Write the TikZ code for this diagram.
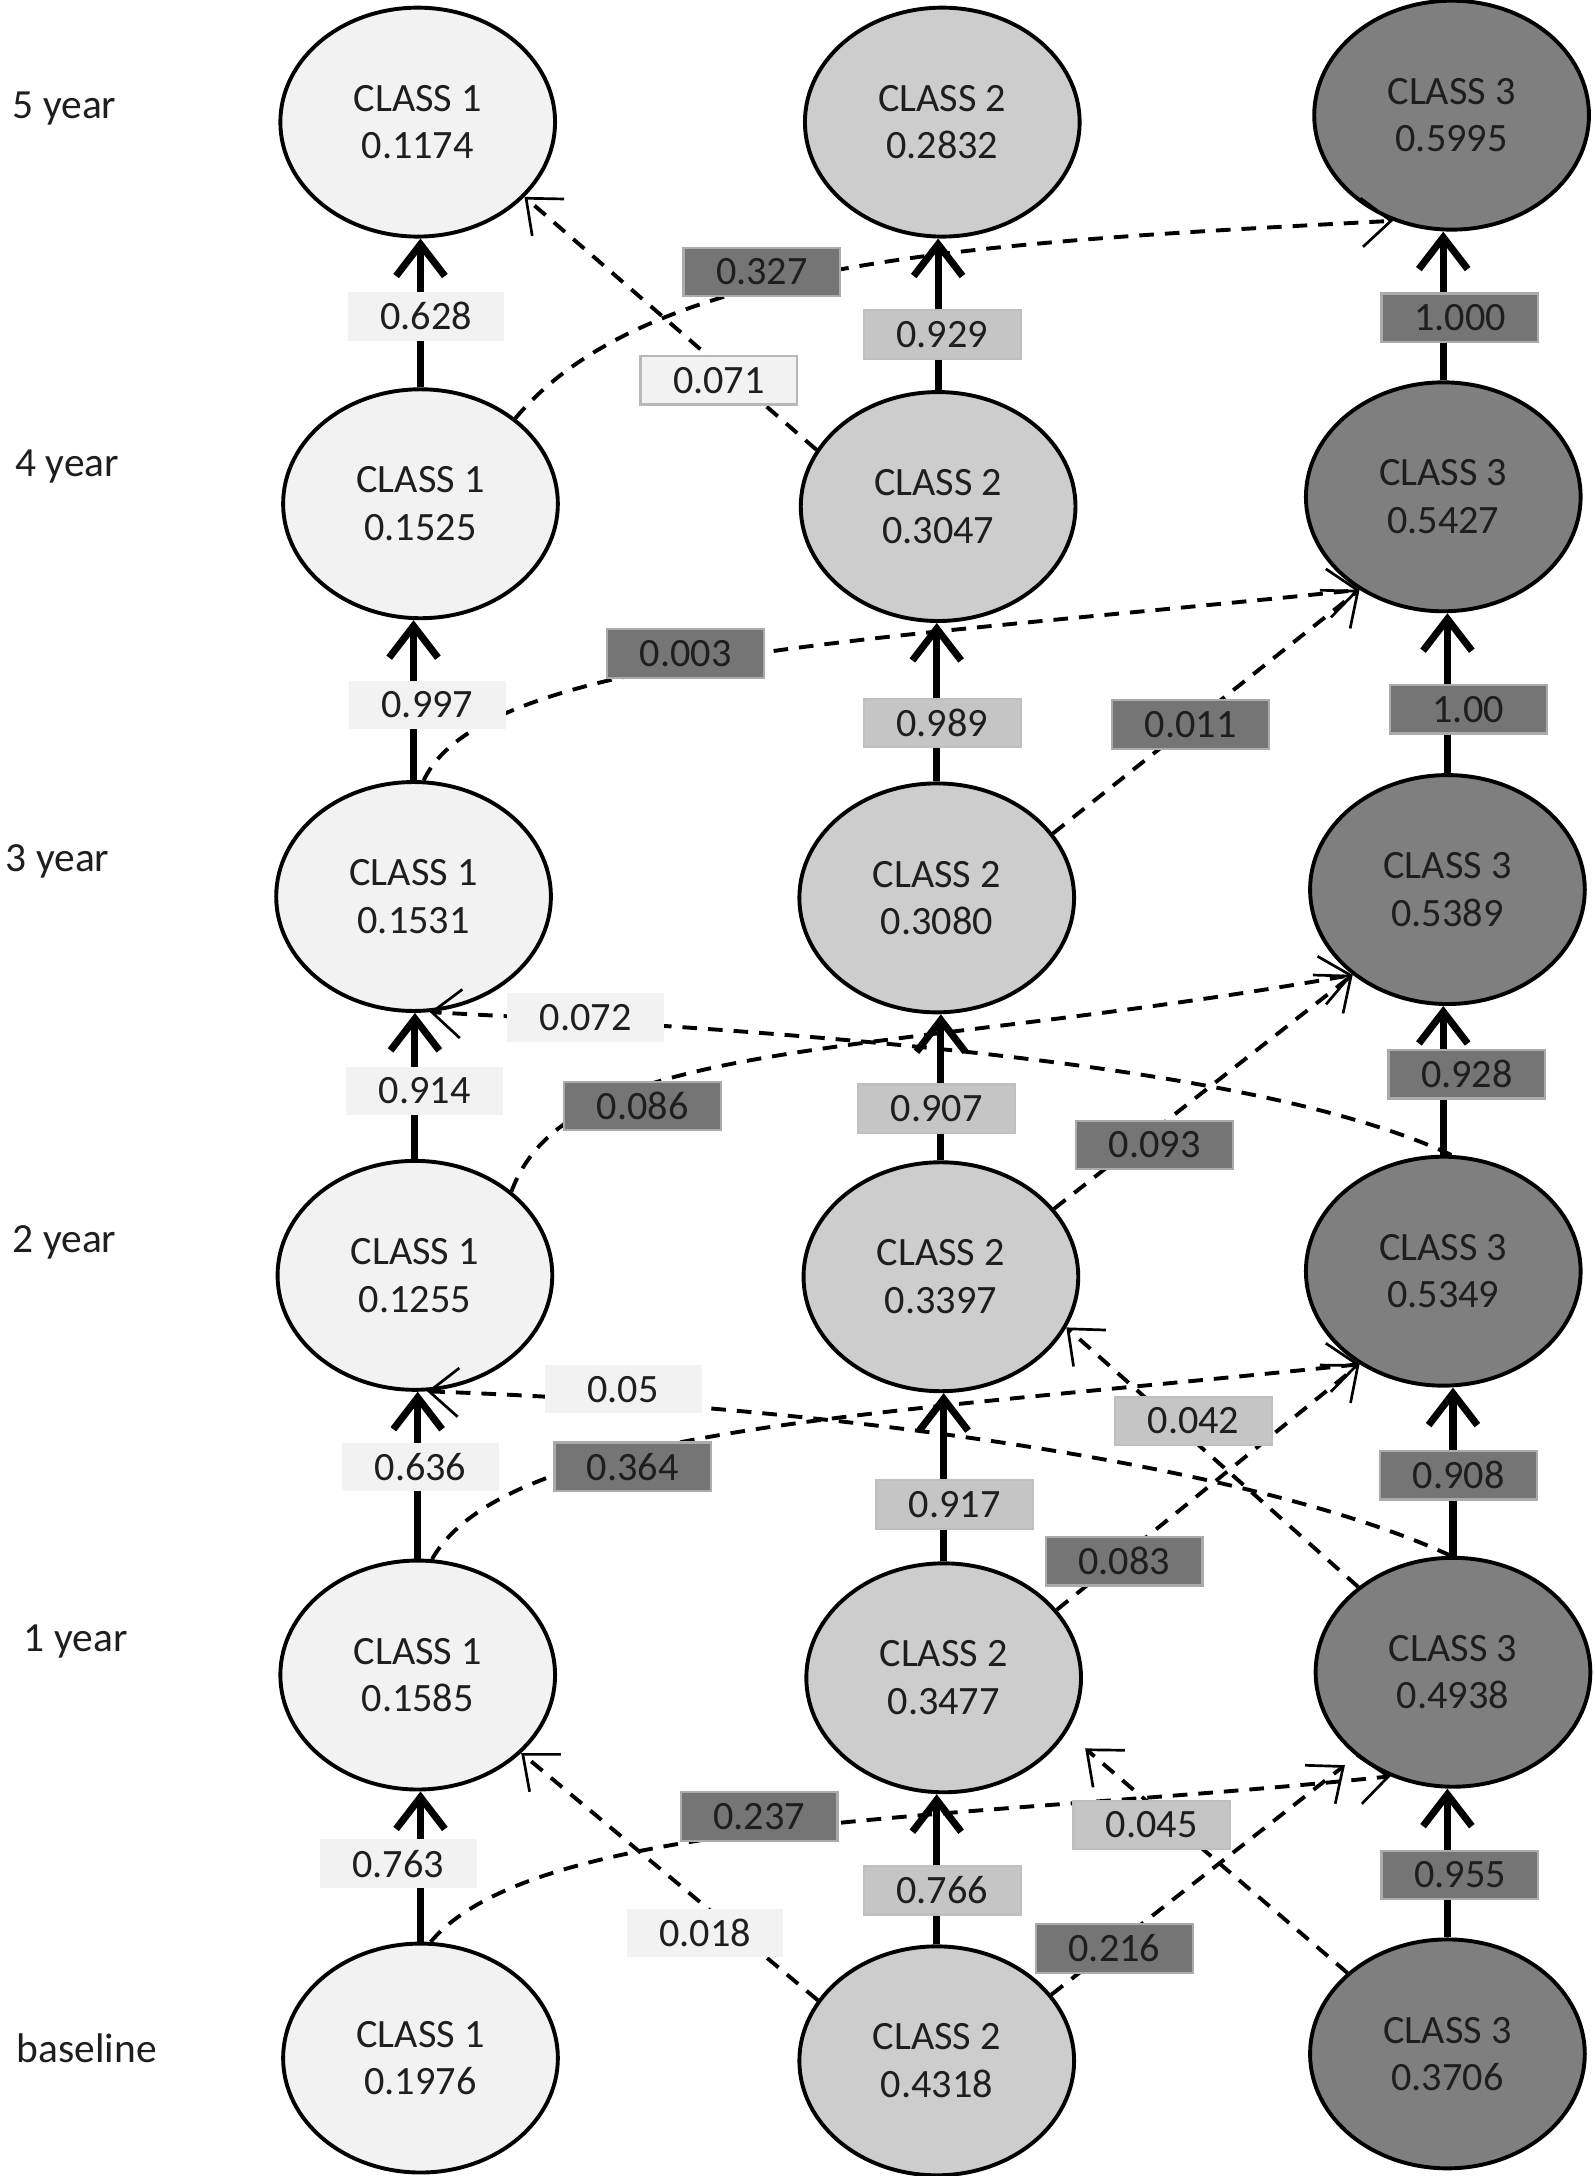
\documentclass[tikz,border=0pt]{standalone}
\usepackage{fontspec}
\setmainfont{Carlito}
\usetikzlibrary{shapes.geometric,arrows.meta}
\definecolor{cone}{HTML}{F2F2F2}
\definecolor{ctwo}{HTML}{CDCDCD}
\definecolor{cthree}{HTML}{7F7F7F}
\definecolor{ink}{HTML}{1E1E1E}
\begin{document}
\begin{tikzpicture}[x=0.02cm,y=0.02cm,
  cls/.style={ellipse,draw=black,line width=1.6pt,minimum width=3.96cm,minimum height=3.3cm,inner sep=0pt,align=center,font=\fontsize{16.5}{19.5}\selectfont,text=ink},
  cla/.style={cls,fill=cone},
  clb/.style={cls,fill=ctwo},
  clc/.style={cls,fill=cthree},
  lab/.style={rectangle,minimum width=2.26cm,minimum height=0.7cm,inner sep=0pt,line width=0.9pt,font=\fontsize{16.5}{19}\selectfont,text=ink},
  laba/.style={lab,fill=cone},
  labab/.style={lab,fill=cone,draw=black!28},
  labb/.style={lab,fill=ctwo!96!black,draw=black!25},
  labc/.style={lab,fill=cthree!92!black,draw=black!33},
  up/.style={line width=2.9pt,-{Straight Barb[length=13pt,width=20pt,line width=2.9pt]}},
  tr/.style={line width=1.6pt,dash pattern=on 6pt off 4.5pt,-{Straight Barb[length=12pt,width=20pt,line width=1.1pt]}},
  yr/.style={anchor=west,font=\fontsize{17}{20}\selectfont,text=ink}]
\useasboundingbox (0,0) rectangle (1149,-1568);
% row labels
\node[yr] (r5) at (3,-78) {5 year};
\node[yr] (r4) at (5,-336) {4 year};
\node[yr] (r3) at (-2,-621) {3 year};
\node[yr] (r2) at (3,-895) {2 year};
\node[yr] (r1) at (11,-1183) {1 year};
\node[yr] (r0) at (6,-1476) {baseline};
% class nodes
\node[cla] (c1y5) at (301,-88) {CLASS 1\\0.1174};
\node[cla] (c1y4) at (303,-363) {CLASS 1\\0.1525};
\node[cla] (c1y3) at (298,-646) {CLASS 1\\0.1531};
\node[cla] (c1y2) at (299,-919) {CLASS 1\\0.1255};
\node[cla] (c1y1) at (301,-1207) {CLASS 1\\0.1585};
\node[cla] (c1y0) at (303,-1483) {CLASS 1\\0.1976};
\node[clb] (c2y5) at (679,-88) {CLASS 2\\0.2832};
\node[clb] (c2y4) at (676,-365) {CLASS 2\\0.3047};
\node[clb] (c2y3) at (675,-647) {CLASS 2\\0.3080};
\node[clb] (c2y2) at (678,-920) {CLASS 2\\0.3397};
\node[clb] (c2y1) at (680,-1209) {CLASS 2\\0.3477};
\node[clb] (c2y0) at (675,-1485) {CLASS 2\\0.4318};
\node[clc] (c3y5) at (1046,-83) {CLASS 3\\0.5995};
\node[clc] (c3y4) at (1040,-358) {CLASS 3\\0.5427};
\node[clc] (c3y3) at (1043,-641) {CLASS 3\\0.5389};
\node[clc] (c3y2) at (1040,-916) {CLASS 3\\0.5349};
\node[clc] (c3y1) at (1047,-1205) {CLASS 3\\0.4938};
\node[clc] (c3y0) at (1043,-1480) {CLASS 3\\0.3706};
% transitions (dashed)
\draw[tr] (c1y4.42) .. controls +(50:150) and +(183:300) .. (c3y5.241);
\draw[tr] (c2y4.155) -- (c1y5.325);
\draw[tr] (c1y3.85) .. controls +(65:100) and +(186:350) .. (c3y4.228);
\draw[tr] (c2y3.29) -- (c3y4.228);
\draw[tr] (c1y2.41) .. controls +(70:120) and +(190:350) .. (c3y3.222);
\draw[tr] (c2y2.31) -- (c3y3.222);
\draw[tr] (c3y2.86) .. controls +(155:150) and +(-3:300) .. (c1y3.278);
\draw[tr] (c1y1.83) .. controls +(60:110) and +(186:350) .. (c3y2.228);
\draw[tr] (c2y1.31) -- (c3y2.228);
\draw[tr] (c3y1.91) .. controls +(155:150) and +(-2:300) .. (c1y2.276);
\draw[tr] (c3y1.138) -- (c2y2.338);
\draw[tr] (c1y0.85) .. controls +(50:120) and +(186:300) .. (c3y1.239);
\draw[tr] (c2y0.153) -- (c1y1.323);
\draw[tr,shorten >=6pt] (c2y0.30) -- (c3y1.221);
\draw[tr,shorten >=10pt] (c3y0.141) -- (c2y1.336);
% stays (solid)
\draw[up] (c1y4.north) -- (c1y4.north |- c1y5.south);
\draw[up] (c1y3.north) -- (c1y3.north |- c1y4.south);
\draw[up] (c1y2.north) -- (c1y2.north |- c1y3.south);
\draw[up] (c1y1.north) -- (c1y1.north |- c1y2.south);
\draw[up] (c1y0.north) -- (c1y0.north |- c1y1.south);
\draw[up] (c2y4.north) -- (c2y4.north |- c2y5.south);
\draw[up] (c2y3.north) -- (c2y3.north |- c2y4.south);
\draw[up] (c2y2.north) -- (c2y2.north |- c2y3.south);
\draw[up] (c2y1.north) -- (c2y1.north |- c2y2.south);
\draw[up] (c2y0.north) -- (c2y0.north |- c2y1.south);
\draw[up] (c3y4.north) -- (c3y4.north |- c3y5.south);
\draw[up] (c3y3.north) -- (c3y3.north |- c3y4.south);
\draw[up] (c3y2.north) -- (c3y2.north |- c3y3.south);
\draw[up] (c3y1.north) -- (c3y1.north |- c3y2.south);
\draw[up] (c3y0.north) -- (c3y0.north |- c3y1.south);
% stay labels
\node[laba] (l628) at (307,-228) {0.628};
\node[laba] (l997) at (308,-508) {0.997};
\node[laba] (l914) at (306,-786) {0.914};
\node[laba] (l636) at (303,-1057) {0.636};
\node[laba] (l763) at (287,-1343) {0.763};
\node[labb] (l929) at (679,-241) {0.929};
\node[labb] (l989) at (679,-521) {0.989};
\node[labb] (l907) at (675,-799) {0.907};
\node[labb] (l917) at (688,-1084) {0.917};
\node[labb] (l766) at (679,-1362) {0.766};
\node[labc] (l1000) at (1052,-229) {1.000};
\node[labc] (l100) at (1058,-511) {1.00};
\node[labc] (l928) at (1057,-774) {0.928};
\node[labc] (l908) at (1051,-1063) {0.908};
\node[labc] (l955) at (1052,-1351) {0.955};
% transition labels
\node[labc] (l327) at (549,-196) {0.327};
\node[labab] (l071) at (518,-274) {0.071};
\node[labc] (l003) at (494,-471) {0.003};
\node[labc] (l011) at (858,-522) {0.011};
\node[labc] (l086) at (463,-797) {0.086};
\node[labc] (l093) at (832,-825) {0.093};
\node[laba] (l072) at (422,-733) {0.072};
\node[labc] (l364) at (456,-1057) {0.364};
\node[labc] (l083) at (810,-1125) {0.083};
\node[laba] (l05) at (449,-1001) {0.05};
\node[labb] (l042) at (860,-1024) {0.042};
\node[labc] (l237) at (547,-1309) {0.237};
\node[laba] (l018) at (508,-1393) {0.018};
\node[labc] (l216) at (803,-1404) {0.216};
\node[labb] (l045) at (830,-1315) {0.045};
\end{tikzpicture}
\end{document}
